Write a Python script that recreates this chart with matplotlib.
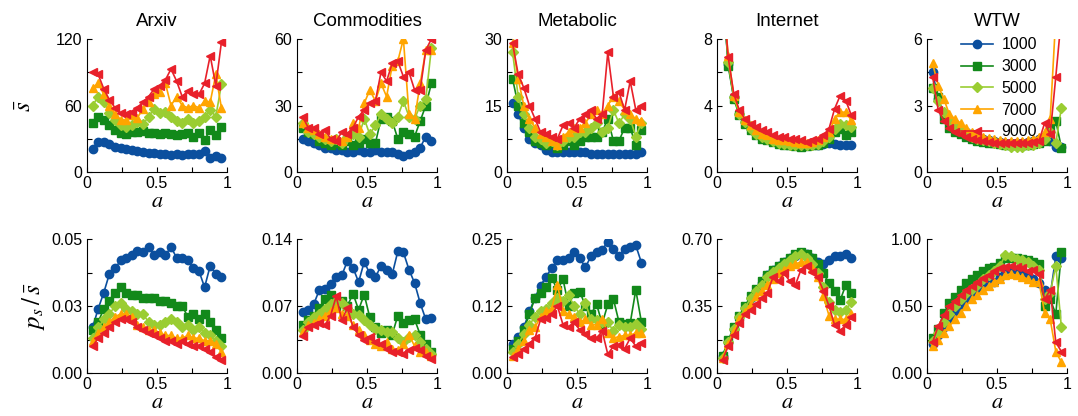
import matplotlib
matplotlib.use("Agg")
import matplotlib.pyplot as plt
from matplotlib.ticker import FixedLocator

plt.rcParams['font.family'] = ['Liberation Sans', 'DejaVu Sans']
plt.rcParams['mathtext.fontset'] = 'stix'

# x positions of the points
a = [0.04, 0.08, 0.12, 0.16, 0.20, 0.24, 0.28, 0.32, 0.36, 0.40, 0.44, 0.48,
     0.52, 0.56, 0.60, 0.64, 0.68, 0.72, 0.76, 0.80, 0.84, 0.88, 0.92, 0.96]

sizes = ['1000', '3000', '5000', '7000', '9000']
titles = ['Arxiv', 'Commodities', 'Metabolic', 'Internet', 'WTW']

# top row: mean strength s-bar, one row per size (1000..9000)
arxiv_s = [
    [21, 27, 27, 25, 23, 22, 21, 20, 19, 18, 17, 17, 16, 16, 15, 16, 15, 16, 16, 16, 19, 13, 14, 13],
    [44, 50, 47, 42, 38, 35, 34, 36, 36, 37, 35, 35, 34, 35, 34, 33, 34, 35, 32, 35, 29, 38, 33, 41],
    [60, 68, 63, 53, 47, 42, 41, 42, 45, 43, 50, 57, 53, 54, 50, 46, 44, 48, 44, 46, 50, 56, 50, 79],
    [76, 80, 70, 60, 52, 47, 47, 51, 49, 57, 63, 70, 72, 80, 60, 68, 60, 58, 60, 58, 64, 63, 88, 58],
    [90, 88, 75, 65, 58, 53, 52, 54, 58, 63, 68, 75, 78, 83, 93, 82, 68, 73, 70, 70, 80, 105, 78, 117],
]
commod_s = [
    [15, 14, 13, 12, 11, 11, 10, 10, 9, 9, 10, 9, 9, 10, 9, 9, 9, 8, 7, 8, 9, 11, 16, 14],
    [20, 18, 17, 14, 13, 12, 13, 12, 14, 12, 13, 15, 13, 13, 24, 25, 23, 15, 18, 17, 16, 23, 30, 40],
    [22, 18, 17, 16, 15, 14, 15, 13, 16, 17, 16, 24, 17, 21, 26, 24, 22, 25, 32, 25, 24, 30, 33, 56],
    [22, 20, 19, 17, 16, 15, 15, 14, 16, 22, 20, 31, 37, 32, 40, 34, 48, 50, 60, 26, 24, 40, 55, 55],
    [25, 20, 20, 17, 19, 15, 14, 18, 17, 20, 25, 28, 31, 32, 45, 41, 49, 50, 43, 45, 37, 37, 55, 60],
]
metab_s = [
    [15.5, 13, 10, 7.5, 6.5, 6, 5, 4.5, 4.5, 4.5, 4.5, 4.5, 4.5, 4.5, 4, 4, 4, 4, 4, 4, 4, 4, 4, 4.5],
    [21, 15, 11, 9, 7, 6.5, 6, 6.5, 5.5, 6, 7, 6, 7, 8, 8, 8, 9, 12, 7, 7, 10, 10, 6, 9.5],
    [27, 17, 13, 10, 8, 7.5, 6.5, 7, 6, 7, 8, 8, 9, 9, 10, 11, 9, 10, 14, 11, 13, 12, 8, 11],
    [29, 21, 15, 12, 10, 8.5, 8, 7, 6, 8, 9, 10, 10, 11, 13, 14, 13, 15, 17, 16, 14, 13, 12, 11.5],
    [29, 22, 19, 15, 12, 9, 8.5, 8, 7.5, 10.5, 11, 10, 12, 13, 14, 12, 13, 27, 17, 18, 14, 20.5, 14, 15],
]
inet_s = [
    [11, 6.5, 4.5, 3.5, 3.0, 2.6, 2.3, 2.1, 2.0, 1.9, 1.8, 1.7, 1.65, 1.6, 1.6, 1.6, 1.6, 1.65, 1.7, 1.75, 1.7, 1.65, 1.65, 1.65],
    [11, 6.4, 4.4, 3.4, 2.9, 2.5, 2.2, 2.0, 1.9, 1.8, 1.7, 1.65, 1.6, 1.55, 1.5, 1.55, 1.6, 1.65, 1.75, 2.0, 2.4, 2.6, 2.2, 2.4],
    [11, 6.6, 4.5, 3.5, 3.0, 2.6, 2.3, 2.1, 2.0, 1.85, 1.75, 1.7, 1.65, 1.6, 1.6, 1.6, 1.65, 1.7, 1.85, 2.1, 2.6, 2.9, 2.8, 2.7],
    [11, 7.0, 4.6, 3.6, 3.1, 2.8, 2.5, 2.3, 2.2, 2.0, 1.95, 1.9, 1.85, 1.8, 1.75, 1.75, 1.8, 1.9, 2.1, 2.4, 3.2, 3.6, 3.6, 3.1],
    [11, 6.9, 4.7, 3.7, 3.2, 2.9, 2.7, 2.5, 2.4, 2.2, 2.1, 2.1, 2.0, 2.0, 1.9, 1.8, 1.9, 2.0, 2.2, 2.6, 3.8, 4.6, 4.3, 3.4],
]
wtw_s = [
    [4.5, 3.3, 2.6, 2.3, 2.0, 1.9, 1.8, 1.7, 1.6, 1.5, 1.45, 1.4, 1.35, 1.3, 1.3, 1.3, 1.3, 1.35, 1.4, 1.5, 1.6, 1.4, 1.15, 1.15],
    [3.8, 3.4, 2.4, 2.0, 1.8, 1.7, 1.6, 1.5, 1.4, 1.35, 1.3, 1.3, 1.25, 1.2, 1.2, 1.2, 1.2, 1.2, 1.25, 1.3, 1.4, 2.0, 2.3, 1.1],
    [3.8, 3.2, 2.7, 2.3, 2.1, 1.9, 1.8, 1.6, 1.5, 1.45, 1.4, 1.3, 1.25, 1.2, 1.15, 1.15, 1.15, 1.2, 1.2, 1.3, 1.5, 1.8, 1.3, 2.9],
    [4.9, 3.9, 3.3, 2.6, 2.4, 2.2, 2.0, 1.8, 1.7, 1.6, 1.55, 1.5, 1.45, 1.4, 1.4, 1.4, 1.4, 1.45, 1.5, 1.6, 1.8, 2.4, 7.0, 9.0],
    [4.3, 2.8, 2.3, 2.0, 1.8, 1.7, 1.6, 1.5, 1.45, 1.4, 1.35, 1.3, 1.3, 1.3, 1.3, 1.3, 1.3, 1.3, 1.35, 1.4, 2.2, 1.7, 4.3, 7.0],
]

# bottom row: p_s / s-bar
arxiv_p = [
    [0.017, 0.024, 0.030, 0.037, 0.039, 0.042, 0.043, 0.044, 0.0455, 0.045, 0.047, 0.044, 0.045, 0.044, 0.047, 0.043, 0.043, 0.042, 0.039, 0.038, 0.032, 0.040, 0.037, 0.036],
    [0.016, 0.019, 0.024, 0.027, 0.030, 0.032, 0.030, 0.029, 0.029, 0.028, 0.028, 0.028, 0.027, 0.027, 0.026, 0.025, 0.025, 0.021, 0.022, 0.020, 0.022, 0.019, 0.016, 0.013],
    [0.013, 0.017, 0.020, 0.022, 0.025, 0.026, 0.024, 0.023, 0.022, 0.022, 0.019, 0.018, 0.018, 0.019, 0.020, 0.019, 0.017, 0.018, 0.016, 0.017, 0.015, 0.014, 0.012, 0.010],
    [0.012, 0.015, 0.017, 0.019, 0.021, 0.022, 0.022, 0.021, 0.018, 0.017, 0.016, 0.016, 0.015, 0.014, 0.014, 0.013, 0.013, 0.014, 0.013, 0.013, 0.012, 0.012, 0.011, 0.008],
    [0.010, 0.013, 0.015, 0.017, 0.019, 0.020, 0.020, 0.019, 0.017, 0.016, 0.015, 0.014, 0.013, 0.012, 0.012, 0.011, 0.012, 0.011, 0.010, 0.010, 0.009, 0.008, 0.006, 0.005],
]
commod_p = [
    [0.064, 0.066, 0.072, 0.087, 0.088, 0.093, 0.100, 0.102, 0.117, 0.110, 0.095, 0.116, 0.104, 0.100, 0.112, 0.108, 0.103, 0.127, 0.126, 0.108, 0.094, 0.073, 0.056, 0.057],
    [0.050, 0.055, 0.060, 0.068, 0.077, 0.081, 0.070, 0.075, 0.070, 0.083, 0.066, 0.082, 0.058, 0.048, 0.042, 0.045, 0.040, 0.060, 0.052, 0.055, 0.056, 0.040, 0.030, 0.022],
    [0.045, 0.053, 0.058, 0.062, 0.067, 0.072, 0.075, 0.073, 0.068, 0.062, 0.061, 0.055, 0.050, 0.046, 0.045, 0.043, 0.043, 0.037, 0.032, 0.038, 0.040, 0.032, 0.025, 0.020],
    [0.043, 0.050, 0.052, 0.056, 0.060, 0.065, 0.068, 0.062, 0.060, 0.050, 0.045, 0.040, 0.035, 0.030, 0.028, 0.032, 0.025, 0.024, 0.030, 0.040, 0.028, 0.022, 0.022, 0.018],
    [0.039, 0.048, 0.050, 0.052, 0.050, 0.060, 0.080, 0.055, 0.068, 0.048, 0.040, 0.035, 0.038, 0.032, 0.030, 0.025, 0.022, 0.022, 0.020, 0.024, 0.026, 0.024, 0.018, 0.015],
]
metab_p = [
    [0.055, 0.068, 0.085, 0.115, 0.140, 0.163, 0.180, 0.196, 0.210, 0.211, 0.215, 0.225, 0.214, 0.197, 0.218, 0.226, 0.230, 0.245, 0.232, 0.219, 0.232, 0.235, 0.238, 0.206],
    [0.045, 0.060, 0.080, 0.110, 0.140, 0.150, 0.160, 0.177, 0.155, 0.175, 0.125, 0.150, 0.152, 0.125, 0.110, 0.128, 0.092, 0.128, 0.138, 0.095, 0.092, 0.093, 0.155, 0.095],
    [0.040, 0.055, 0.072, 0.090, 0.105, 0.115, 0.120, 0.130, 0.140, 0.135, 0.145, 0.125, 0.110, 0.130, 0.100, 0.098, 0.095, 0.095, 0.078, 0.090, 0.085, 0.085, 0.092, 0.082],
    [0.032, 0.045, 0.060, 0.080, 0.085, 0.105, 0.115, 0.120, 0.165, 0.115, 0.110, 0.105, 0.095, 0.100, 0.090, 0.090, 0.100, 0.075, 0.065, 0.068, 0.070, 0.070, 0.075, 0.075],
    [0.030, 0.035, 0.045, 0.055, 0.065, 0.100, 0.103, 0.110, 0.125, 0.090, 0.085, 0.095, 0.080, 0.072, 0.065, 0.065, 0.078, 0.035, 0.050, 0.052, 0.045, 0.065, 0.050, 0.056],
]
inet_p = [
    [0.09, 0.16, 0.23, 0.29, 0.34, 0.39, 0.43, 0.47, 0.51, 0.54, 0.56, 0.58, 0.60, 0.61, 0.62, 0.62, 0.60, 0.58, 0.57, 0.59, 0.61, 0.61, 0.62, 0.60],
    [0.09, 0.17, 0.24, 0.30, 0.35, 0.40, 0.44, 0.48, 0.51, 0.54, 0.56, 0.58, 0.60, 0.62, 0.63, 0.62, 0.60, 0.57, 0.52, 0.47, 0.43, 0.38, 0.46, 0.42],
    [0.08, 0.16, 0.23, 0.29, 0.34, 0.39, 0.43, 0.46, 0.50, 0.53, 0.55, 0.57, 0.59, 0.61, 0.62, 0.60, 0.57, 0.52, 0.45, 0.37, 0.33, 0.32, 0.33, 0.37],
    [0.08, 0.15, 0.22, 0.28, 0.32, 0.36, 0.40, 0.43, 0.46, 0.49, 0.52, 0.54, 0.56, 0.57, 0.58, 0.58, 0.55, 0.50, 0.40, 0.30, 0.28, 0.28, 0.28, 0.31],
    [0.07, 0.14, 0.20, 0.26, 0.31, 0.33, 0.36, 0.39, 0.42, 0.50, 0.48, 0.52, 0.48, 0.46, 0.54, 0.56, 0.53, 0.50, 0.43, 0.35, 0.25, 0.22, 0.25, 0.29],
]
wtw_p = [
    [0.22, 0.28, 0.34, 0.40, 0.45, 0.50, 0.55, 0.58, 0.62, 0.65, 0.67, 0.68, 0.72, 0.75, 0.76, 0.76, 0.75, 0.73, 0.70, 0.67, 0.62, 0.58, 0.87, 0.86],
    [0.26, 0.33, 0.45, 0.52, 0.57, 0.62, 0.67, 0.70, 0.73, 0.76, 0.78, 0.79, 0.82, 0.86, 0.86, 0.86, 0.85, 0.84, 0.83, 0.81, 0.50, 0.55, 0.44, 0.90],
    [0.24, 0.30, 0.38, 0.44, 0.50, 0.55, 0.60, 0.63, 0.66, 0.70, 0.73, 0.76, 0.80, 0.88, 0.87, 0.85, 0.84, 0.83, 0.80, 0.77, 0.55, 0.60, 0.80, 0.34],
    [0.20, 0.25, 0.30, 0.35, 0.40, 0.45, 0.50, 0.55, 0.58, 0.62, 0.65, 0.68, 0.70, 0.73, 0.74, 0.73, 0.72, 0.70, 0.68, 0.68, 0.45, 0.40, 0.16, 0.08],
    [0.23, 0.35, 0.43, 0.50, 0.54, 0.58, 0.62, 0.65, 0.68, 0.71, 0.73, 0.76, 0.78, 0.79, 0.80, 0.79, 0.78, 0.76, 0.77, 0.74, 0.55, 0.62, 0.23, 0.16],
]

top_data = [arxiv_s, commod_s, metab_s, inet_s, wtw_s]
bot_data = [arxiv_p, commod_p, metab_p, inet_p, wtw_p]
top_max = [120, 60, 30, 8, 6]
top_labels = [['0', '60', '120'], ['0', '30', '60'], ['0', '15', '30'], ['0', '4', '8'], ['0', '3', '6']]
bot_max = [0.05, 0.14, 0.25, 0.70, 1.00]
bot_labels = [['0.00', '0.03', '0.05'], ['0.00', '0.07', '0.14'], ['0.00', '0.12', '0.25'],
              ['0.00', '0.35', '0.70'], ['0.00', '0.50', '1.00']]

colors = ['#0b4f9e', '#12891a', '#9acd32', '#ffa500', '#e8202a']
markers = ['o', 's', 'D', '^', '<']
msizes = [6, 5.5, 5, 6, 6]

fig = plt.figure(figsize=(10.78, 4.16), dpi=100)


def style_axes(ax, ymax, ylabels):
    ax.set_xlim(0, 1)
    ax.set_ylim(0, ymax)
    for side in ['top', 'right']:
        ax.spines[side].set_visible(False)
    ax.set_xticks([0, 0.5, 1])
    ax.set_xticklabels(['0', '0.5', '1'])
    ax.xaxis.set_minor_locator(FixedLocator([0.25, 0.75]))
    ax.set_yticks([0, ymax / 2, ymax])
    ax.set_yticklabels(ylabels)
    ax.yaxis.set_minor_locator(FixedLocator([ymax / 4, 3 * ymax / 4]))
    ax.tick_params(which='both', direction='in', length=3.5, width=0.8, labelsize=11.5)
    ax.tick_params(axis='x', pad=3)
    ax.set_xlabel('$a$', fontsize=16, labelpad=0)


for i in range(5):
    left = (87 + 210 * i) / 1078
    w = 140 / 1078
    ax = fig.add_axes([left, 1 - 172 / 416, w, 133 / 416])
    for k in range(5):
        ax.plot(a, top_data[i][k], color=colors[k], marker=markers[k], ms=msizes[k],
                lw=1.2, label=sizes[k])
    style_axes(ax, top_max[i], top_labels[i])
    ax.set_title(titles[i], fontsize=13.5, pad=9)
    if i == 0:
        ax.set_ylabel(r'$\bar{s}$', fontsize=18, labelpad=14)
    if i == 4:
        ax.legend(loc='upper left', bbox_to_anchor=(0.2, 1.06), frameon=False,
                  fontsize=11.5, handlelength=2.0, handletextpad=0.5,
                  labelspacing=0.42, borderaxespad=0)

    ax2 = fig.add_axes([left, 1 - 373 / 416, w, 134 / 416])
    for k in range(5):
        ax2.plot(a, bot_data[i][k], color=colors[k], marker=markers[k], ms=msizes[k],
                 lw=1.2)
    style_axes(ax2, bot_max[i], bot_labels[i])
    if i == 0:
        ax2.set_ylabel(r'$p_s\,/\,\bar{s}$', fontsize=18, labelpad=3)

fig.savefig('out.png', dpi=100)
